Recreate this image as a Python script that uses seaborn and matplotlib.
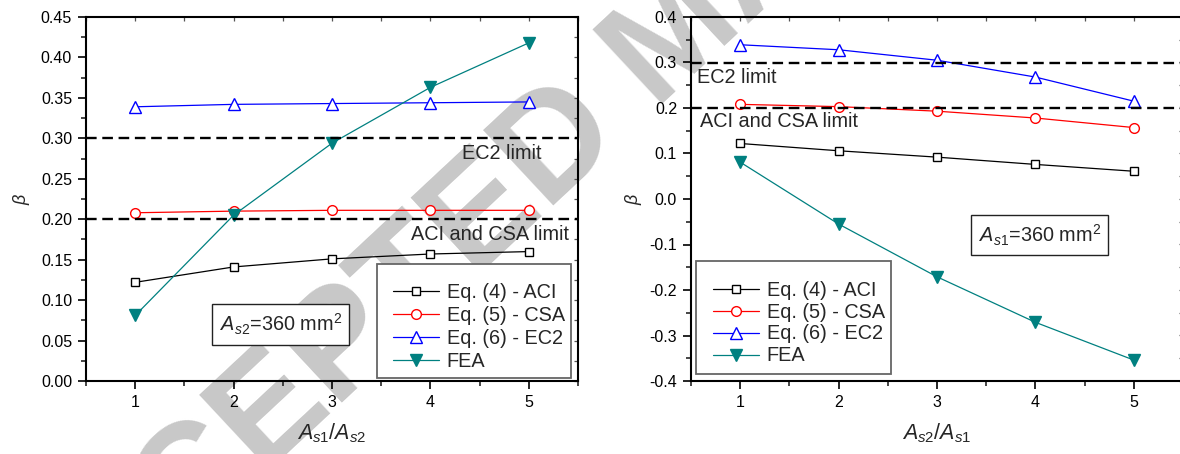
import numpy as np
import matplotlib
matplotlib.use("Agg")
import matplotlib.pyplot as plt
import seaborn as sns
from matplotlib.ticker import MultipleLocator, FormatStrFormatter
from matplotlib.patches import Rectangle

# ---- data -------------------------------------------------------------
ratios = [1, 2, 3, 4, 5]

# left panel: A_s2 = 360 mm^2, x = A_s1/A_s2
left_aci = [0.122, 0.141, 0.151, 0.157, 0.160]
left_csa = [0.208, 0.210, 0.211, 0.211, 0.211]
left_ec2 = [0.339, 0.342, 0.343, 0.344, 0.345]
left_fea = [0.081, 0.205, 0.294, 0.363, 0.418]

# right panel: A_s1 = 360 mm^2, x = A_s2/A_s1
right_aci = [0.122, 0.106, 0.092, 0.076, 0.061]
right_csa = [0.208, 0.203, 0.193, 0.178, 0.157]
right_ec2 = [0.339, 0.328, 0.305, 0.268, 0.215]
right_fea = [0.081, -0.055, -0.171, -0.271, -0.354]

series_labels = ["Eq. (4) - ACI", "Eq. (5) - CSA", "Eq. (6) - EC2", "FEA"]
limit_values = [0.3, 0.2]
limit_labels = ["EC2 limit", "ACI and CSA limit"]

# ---- style ------------------------------------------------------------
sns.set_style("ticks")
plt.rcParams.update({
    "font.family": ["Liberation Sans", "DejaVu Sans"],
    "mathtext.fontset": "custom",
    "mathtext.rm": "Liberation Sans",
    "mathtext.it": "Liberation Sans:italic",
    "mathtext.bf": "Liberation Sans:bold",
})

# marker, colour, face colour, marker size
series_styles = [
    ("s", "black", "white", 6.0),
    ("o", "#ff0000", "white", 7.0),
    ("^", "#0000ff", "white", 8.0),
    ("v", "#008080", "#008080", 8.0),
]

W, H = 1180, 454
fig = plt.figure(figsize=(W / 100, H / 100), dpi=100)
fig.patch.set_facecolor("white")

ax_l = fig.add_axes([86 / W, 73 / H, 492 / W, 364 / H])
ax_r = fig.add_axes([691 / W, 73 / H, 492 / W, 364 / H])

# diagonal watermark behind both panels
fig.text(704 / W, 1 - 66 / H, "ACCEPTED MANUSCRIPT", rotation=43,
         rotation_mode="anchor", ha="center", va="baseline",
         fontsize=107, fontweight="bold", color="#c8c8c8", zorder=-1)


def draw_panel(ax, values, ylim, ymajor, yminor, yfmt, xlabel,
               note, note_xy, legend_box, legend_anchor, legend_spacing,
               limit_pos, ylabel_x):
    ax.set_facecolor("none")
    for vals, lab, (mk, col, mfc, ms) in zip(values, series_labels, series_styles):
        sns.lineplot(x=ratios, y=vals, ax=ax, color=col, marker=mk,
                     markersize=ms, markerfacecolor=mfc, markeredgecolor=col,
                     markeredgewidth=1.0, linewidth=0.9, label=lab, zorder=2)

    for v in limit_values:
        ax.axhline(v, color="black", lw=1.7, ls=(0, (4.5, 2.4)), zorder=3)
    for (tx, ty, ha), txt in zip(limit_pos, limit_labels):
        ax.text(tx, ty, txt, ha=ha, va="center", fontsize=14.3, zorder=4)

    ax.set_xlim(0.5, 5.5)
    ax.set_ylim(*ylim)
    ax.xaxis.set_major_locator(MultipleLocator(1))
    ax.xaxis.set_minor_locator(MultipleLocator(0.5))
    ax.yaxis.set_major_locator(MultipleLocator(ymajor))
    ax.yaxis.set_minor_locator(MultipleLocator(yminor))
    ax.yaxis.set_major_formatter(FormatStrFormatter(yfmt))
    ax.tick_params(which="major", direction="out", length=6, width=1.2,
                   labelsize=11.5, pad=4, colors="black")
    ax.tick_params(which="minor", direction="out", length=3.5, width=1.2)
    for sp in ax.spines.values():
        sp.set_linewidth(1.5)
        sp.set_color("black")

    # short inward ticks on the top and right frame edges
    top = ax.secondary_xaxis("top")
    top.xaxis.set_major_locator(MultipleLocator(0.5))
    top.tick_params(direction="in", length=3, width=0.9, color="#555555",
                    labeltop=False)
    for sp in top.spines.values():
        sp.set_visible(False)
    right = ax.secondary_yaxis("right")
    right.yaxis.set_major_locator(MultipleLocator(yminor))
    right.tick_params(direction="in", length=3, width=0.9, color="#555555",
                      labelright=False)
    for sp in right.spines.values():
        sp.set_visible(False)

    ax.set_xlabel(xlabel, fontsize=15.5)
    ax.xaxis.set_label_coords(0.5, -0.11)
    ax.set_ylabel(r"$\beta$", fontsize=13)
    ax.yaxis.set_label_coords(ylabel_x, 0.5)

    ax.text(note_xy[0], note_xy[1], note, transform=ax.transAxes,
            ha="center", va="center", fontsize=14.3, zorder=5,
            bbox=dict(boxstyle="square,pad=0.38", facecolor="white",
                      edgecolor="#222222", linewidth=1.0))

    x0, y0, bw, bh = legend_box
    ax.add_patch(Rectangle((x0, y0), bw, bh, transform=ax.transAxes,
                           facecolor="white", edgecolor="#666666",
                           linewidth=1.3, zorder=4.5))
    handles, labels = ax.get_legend_handles_labels()
    ax.legend(handles, labels, loc="upper left", bbox_to_anchor=legend_anchor,
              frameon=False, fontsize=14.3, handlelength=2.3,
              handletextpad=0.4, labelspacing=legend_spacing, borderpad=0,
              borderaxespad=0).set_zorder(5)


draw_panel(ax_l, [left_aci, left_csa, left_ec2, left_fea],
           ylim=(0, 0.45), ymajor=0.05, yminor=0.025, yfmt="%.2f",
           xlabel=r"$A_{s1}/A_{s2}$",
           note=r"$A_{s2}$=360 mm$^2$", note_xy=(0.396, 0.155),
           legend_box=(0.5915, 0.0082, 0.394, 0.313),
           legend_anchor=(0.624, 0.27), legend_spacing=0.2,
           limit_pos=[(5.134, 0.281, "right"), (5.41, 0.1817, "right")],
           ylabel_x=-0.11)

draw_panel(ax_r, [right_aci, right_csa, right_ec2, right_fea],
           ylim=(-0.4, 0.4), ymajor=0.1, yminor=0.05, yfmt="%.1f",
           xlabel=r"$A_{s2}/A_{s1}$",
           note=r"$A_{s1}$=360 mm$^2$", note_xy=(0.709, 0.401),
           legend_box=(0.0102, 0.0192, 0.396, 0.310),
           legend_anchor=(0.0447, 0.276), legend_spacing=0.15,
           limit_pos=[(0.561, 0.268, "left"), (0.59, 0.171, "left")],
           ylabel_x=-0.096)

fig.savefig("out.png", dpi=100, facecolor="white")
